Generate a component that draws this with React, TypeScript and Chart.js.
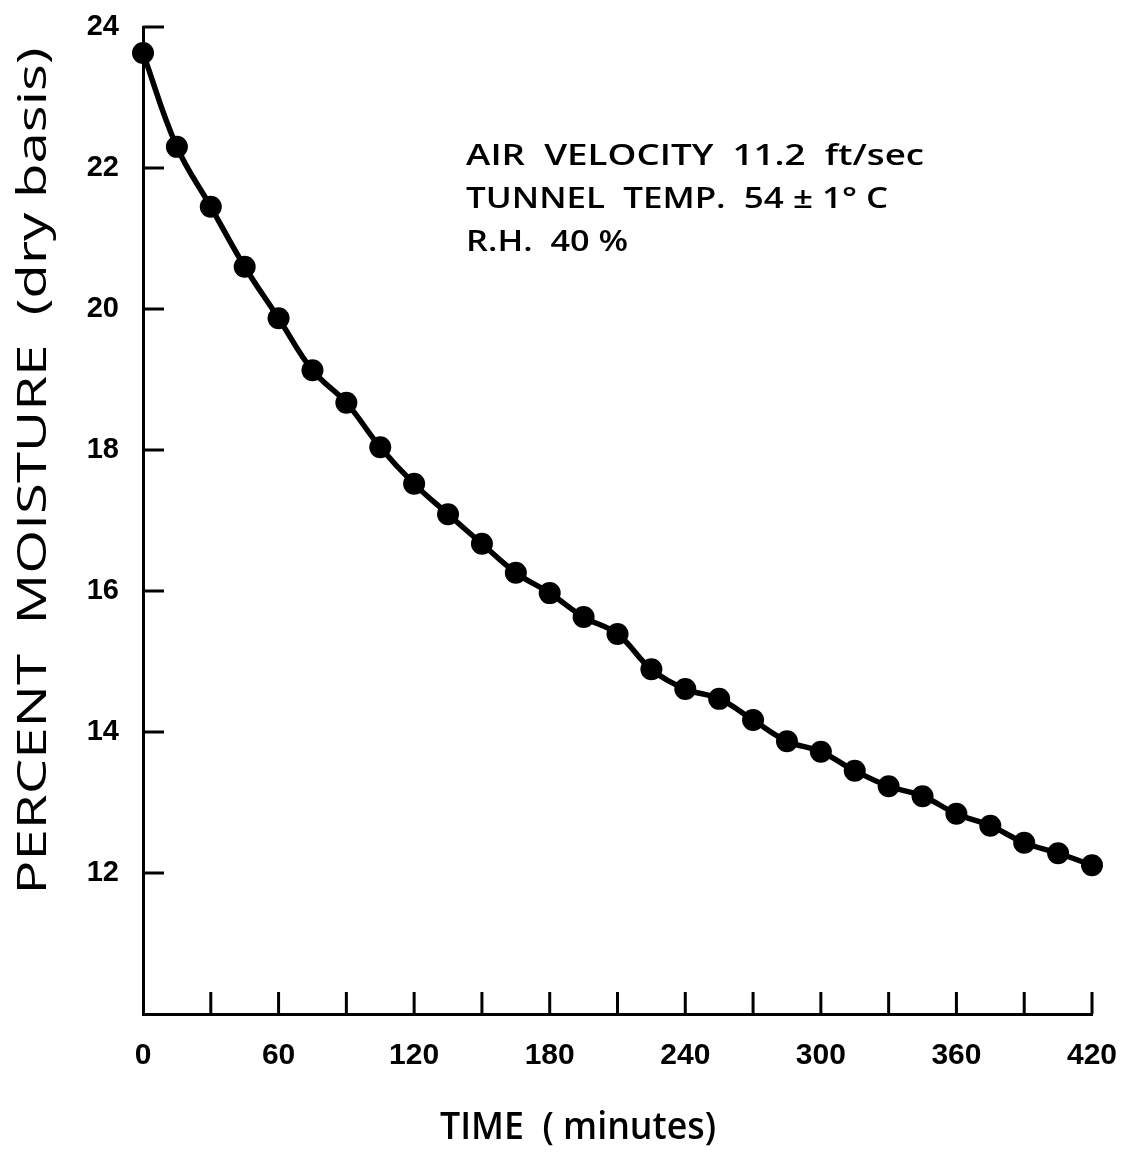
import React, { useEffect, useRef } from "react";
import { Chart, registerables } from "chart.js";

Chart.register(...registerables);

const TIME = [0, 15, 30, 45, 60, 75, 90, 105, 120, 135, 150, 165, 180, 195, 210, 225, 240, 255, 270, 285, 300, 315, 330, 345, 360, 375, 390, 405, 420];
const MOISTURE = [23.63, 22.3, 21.45, 20.6, 19.87, 19.13, 18.67, 18.04, 17.52, 17.09, 16.67, 16.26, 15.97, 15.63, 15.39, 14.89, 14.61, 14.47, 14.17, 13.87, 13.72, 13.45, 13.23, 13.09, 12.84, 12.67, 12.43, 12.28, 12.11];
const X_LABELS = [0, 60, 120, 180, 240, 300, 360, 420];
const Y_LABELS = [12, 14, 16, 18, 20, 22, 24];
const NOTES = ["AIR  VELOCITY  11.2  ft/sec", "TUNNEL  TEMP.  54 \u00B1 1\u00B0 C", "R.H.  40 %"];
const X_TITLE = "TIME  ( minutes)";
const Y_TITLE = "PERCENT  MOISTURE  (dry basis)";

const FAMILY = '"Liberation Sans", "DejaVu Sans", sans-serif';

export default function App() {
  const ref = useRef<HTMLCanvasElement>(null);

  useEffect(() => {
    document.body.style.margin = "0";
    const canvas = ref.current!;

    const fitText = (c: CanvasRenderingContext2D, text: string, cx: number, cy: number, target: number, font: string, rot: number) => {
      c.save();
      c.fillStyle = "#000";
      c.font = font;
      c.textAlign = "center";
      c.textBaseline = "middle";
      const w = c.measureText(text).width;
      c.translate(cx, cy);
      c.rotate(rot);
      c.scale(target / w, 1);
      c.fillText(text, 0, 0);
      c.restore();
    };

    const decor = {
      id: "decor",
      afterDraw(chart: any) {
        const c: CanvasRenderingContext2D = chart.ctx;
        const xs = chart.scales.x;
        const ys = chart.scales.y;
        const { left, bottom } = chart.chartArea;
        c.save();
        c.strokeStyle = "#000";
        c.lineWidth = 3;
        xs.ticks.forEach((t: any) => {
          if (t.value === 0) return;
          const px = xs.getPixelForValue(t.value);
          c.beginPath();
          c.moveTo(px, bottom);
          c.lineTo(px, bottom - 22);
          c.stroke();
        });
        ys.ticks.forEach((t: any) => {
          if (t.value === 10) return;
          const py = ys.getPixelForValue(t.value);
          c.beginPath();
          c.moveTo(left, py);
          c.lineTo(left + 21, py);
          c.stroke();
        });
        c.fillStyle = "#000";
        c.font = `600 28px "Open Sans", ${FAMILY}`;
        c.textAlign = "left";
        c.textBaseline = "middle";
        const nx = xs.getPixelForValue(143);
        const widths = [458, 422, 162];
        NOTES.forEach((n, i) => {
          const py = ys.getPixelForValue(22.15 - i * 0.61);
          const w = c.measureText(n).width;
          c.save();
          c.translate(nx, py);
          c.scale(widths[i] / w, 1);
          c.fillText(n, 0, 0);
          c.restore();
        });
        c.restore();
        fitText(c, Y_TITLE, 35, 471, 847, `500 40px "Open Sans", ${FAMILY}`, -Math.PI / 2);
        fitText(c, X_TITLE, 578, 1128, 276, `600 38px "Open Sans", ${FAMILY}`, 0);
      },
    };

    const chart = new Chart(canvas, {
      type: "line",
      data: {
        datasets: [
          {
            data: TIME.map((t, i) => ({ x: t, y: MOISTURE[i] })),
            borderColor: "#000",
            backgroundColor: "#000",
            borderWidth: 5.5,
            pointRadius: 11,
            pointBackgroundColor: "#000",
            pointBorderWidth: 0,
            tension: 0.4,
          },
        ],
      },
      options: {
        responsive: false,
        animation: false,
        clip: false,
        plugins: { legend: { display: false }, tooltip: { enabled: false } },
        layout: { padding: { top: 27, right: 30, left: 0, bottom: 0 } },
        scales: {
          x: {
            type: "linear",
            min: 0,
            max: 420,
            afterFit: (s: any) => {
              s.height = 145;
              s.paddingLeft = 0;
              s.paddingRight = 0;
            },
            grid: { display: false, drawTicks: false },
            border: { display: true, color: "#000", width: 3 },
            ticks: {
              stepSize: 30,
              autoSkip: false,
              maxRotation: 0,
              padding: 24,
              color: "#000",
              font: { size: 30, weight: "bold", family: FAMILY },
              callback: (v: any) => (X_LABELS.includes(Number(v)) ? String(v) : ""),
            },
          },
          y: {
            min: 10,
            max: 24,
            afterFit: (s: any) => {
              s.width = 143;
              s.paddingTop = 0;
              s.paddingBottom = 0;
            },
            grid: { display: false, drawTicks: false },
            border: { display: true, color: "#000", width: 3 },
            ticks: {
              stepSize: 2,
              autoSkip: false,
              padding: 24,
              color: "#000",
              font: { size: 29, weight: "bold", family: FAMILY },
              callback: (v: any) => (Y_LABELS.includes(Number(v)) ? String(v) : ""),
            },
          },
        },
      },
      plugins: [decor],
    } as any);

    return () => chart.destroy();
  }, []);

  return <canvas ref={ref} width={1122} height={1159} style={{ display: "block" }} />;
}
